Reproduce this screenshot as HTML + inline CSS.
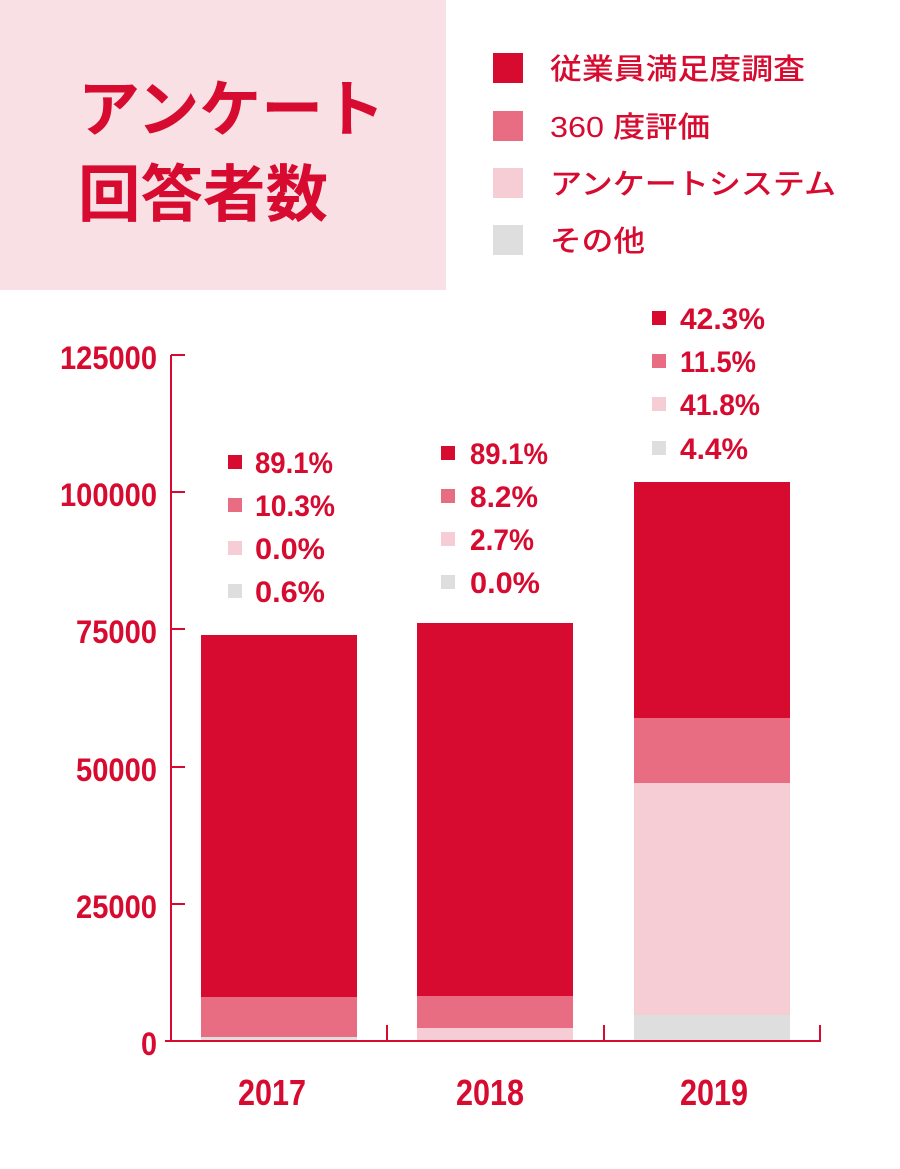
<!DOCTYPE html>
<html><head><meta charset="utf-8"><style>
body{margin:0;background:#fff;}
svg text{font-family:"Liberation Sans","Noto Sans CJK JP",sans-serif;font-weight:bold;fill:#d70a30;}
</style></head><body>
<svg width="900" height="1164" viewBox="0 0 900 1164" xmlns="http://www.w3.org/2000/svg">
<rect x="0" y="0" width="446" height="290" fill="#f9e0e5"/>
<text x="78" y="131" font-size="62" textLength="307" lengthAdjust="spacingAndGlyphs">アンケート</text>
<text x="78" y="216" font-size="62" textLength="250" lengthAdjust="spacingAndGlyphs">回答者数</text>
<rect x="493" y="53" width="30" height="30" fill="#d70a30"/>
<rect x="493" y="111" width="30" height="30" fill="#e86c82"/>
<rect x="493" y="168" width="30" height="30" fill="#f6ccd5"/>
<rect x="493" y="225" width="30" height="30" fill="#dedede"/>
<g font-size="29" style="font-weight:500">
<text x="550" y="79" style="font-weight:500" textLength="255" lengthAdjust="spacingAndGlyphs">従業員満足度調査</text>
<text x="550" y="137" style="font-weight:500" textLength="160" lengthAdjust="spacingAndGlyphs">360 度評価</text>
<text x="550" y="194" style="font-weight:500" textLength="286" lengthAdjust="spacingAndGlyphs">アンケートシステム</text>
<text x="550" y="251" style="font-weight:500" textLength="95" lengthAdjust="spacingAndGlyphs">その他</text>
</g>
<g stroke="#d70a30" stroke-width="2" fill="none">
<line x1="171" y1="355" x2="171" y2="1041"/>
<line x1="171" y1="355" x2="185" y2="355"/>
<line x1="171" y1="492" x2="185" y2="492"/>
<line x1="171" y1="629" x2="185" y2="629"/>
<line x1="171" y1="767" x2="185" y2="767"/>
<line x1="171" y1="904" x2="185" y2="904"/>
<line x1="165" y1="1041" x2="821" y2="1041"/>
<line x1="387" y1="1025" x2="387" y2="1041"/>
<line x1="604" y1="1025" x2="604" y2="1041"/>
<line x1="820" y1="1025" x2="820" y2="1041"/>
</g>
<g font-size="32">
<text x="60" y="369" textLength="97" lengthAdjust="spacingAndGlyphs">125000</text>
<text x="60" y="506" textLength="97" lengthAdjust="spacingAndGlyphs">100000</text>
<text x="76" y="643" textLength="81" lengthAdjust="spacingAndGlyphs">75000</text>
<text x="76" y="781" textLength="81" lengthAdjust="spacingAndGlyphs">50000</text>
<text x="76" y="918" textLength="81" lengthAdjust="spacingAndGlyphs">25000</text>
<text x="141" y="1055" textLength="16" lengthAdjust="spacingAndGlyphs">0</text>
</g>
<rect x="201" y="635" width="156" height="362" fill="#d70a30"/>
<rect x="201" y="997" width="156" height="40" fill="#e86c82"/>
<rect x="201" y="1037" width="156" height="3" fill="#dedede"/>
<rect x="417" y="623" width="156" height="373" fill="#d70a30"/>
<rect x="417" y="996" width="156" height="32" fill="#e86c82"/>
<rect x="417" y="1028" width="156" height="12" fill="#f6ccd5"/>
<rect x="634" y="482" width="156" height="236" fill="#d70a30"/>
<rect x="634" y="718" width="156" height="65" fill="#e86c82"/>
<rect x="634" y="783" width="156" height="232" fill="#f6ccd5"/>
<rect x="634" y="1015" width="156" height="25" fill="#dedede"/>
<g font-size="36">
<text x="238" y="1105" textLength="68" lengthAdjust="spacingAndGlyphs">2017</text>
<text x="456" y="1105" textLength="68" lengthAdjust="spacingAndGlyphs">2018</text>
<text x="680" y="1105" textLength="68" lengthAdjust="spacingAndGlyphs">2019</text>
</g>
<g font-size="30">
<rect x="228" y="455" width="14" height="14" fill="#d70a30"/><text x="255" y="473" textLength="78" lengthAdjust="spacingAndGlyphs">89.1%</text>
<rect x="228" y="498" width="14" height="14" fill="#e86c82"/><text x="255" y="516" textLength="80" lengthAdjust="spacingAndGlyphs">10.3%</text>
<rect x="228" y="541" width="14" height="14" fill="#f6ccd5"/><text x="255" y="559" textLength="70" lengthAdjust="spacingAndGlyphs">0.0%</text>
<rect x="228" y="584" width="14" height="14" fill="#dedede"/><text x="255" y="602" textLength="70" lengthAdjust="spacingAndGlyphs">0.6%</text>
<rect x="441" y="446" width="14" height="14" fill="#d70a30"/><text x="470" y="464" textLength="78" lengthAdjust="spacingAndGlyphs">89.1%</text>
<rect x="441" y="489" width="14" height="14" fill="#e86c82"/><text x="470" y="507" textLength="68" lengthAdjust="spacingAndGlyphs">8.2%</text>
<rect x="441" y="532" width="14" height="14" fill="#f6ccd5"/><text x="470" y="550" textLength="64" lengthAdjust="spacingAndGlyphs">2.7%</text>
<rect x="441" y="575" width="14" height="14" fill="#dedede"/><text x="470" y="593" textLength="70" lengthAdjust="spacingAndGlyphs">0.0%</text>
<rect x="652" y="311" width="14" height="14" fill="#d70a30"/><text x="680" y="329" textLength="85" lengthAdjust="spacingAndGlyphs">42.3%</text>
<rect x="652" y="354" width="14" height="14" fill="#e86c82"/><text x="680" y="372" textLength="76" lengthAdjust="spacingAndGlyphs">11.5%</text>
<rect x="652" y="397" width="14" height="14" fill="#f6ccd5"/><text x="680" y="415" textLength="80" lengthAdjust="spacingAndGlyphs">41.8%</text>
<rect x="652" y="441" width="14" height="14" fill="#dedede"/><text x="680" y="459" textLength="68" lengthAdjust="spacingAndGlyphs">4.4%</text>
</g>
</svg>
</body></html>
